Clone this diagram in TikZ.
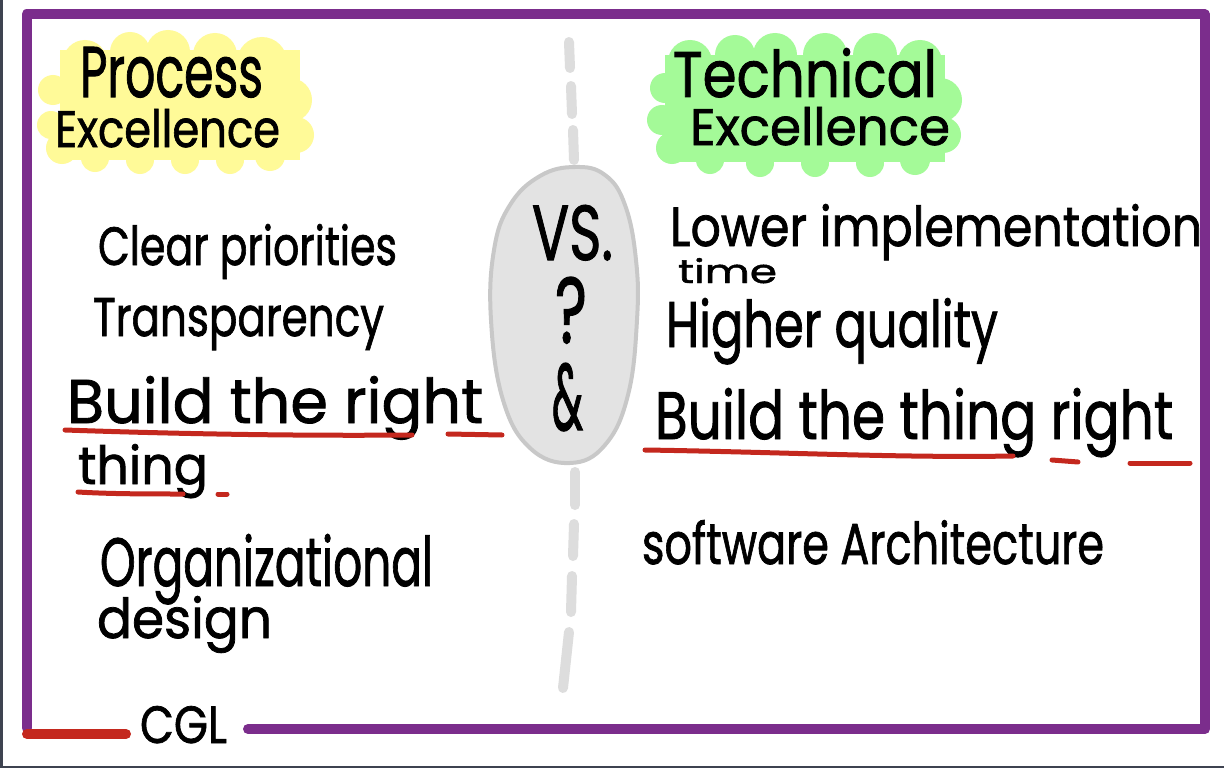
\documentclass[tikz,border=0pt]{standalone}
\usepackage{fontspec}
\usepackage{graphicx}
\setmainfont{Poppins}[FakeBold=1.4,AutoFakeBold=1.4]
\newfontfamily\handfont{Poppins}[FakeBold=1.4]
\definecolor{framepurple}{RGB}{123,45,140}
\definecolor{markred}{RGB}{196,40,30}
\definecolor{hiyellow}{RGB}{255,250,152}
\definecolor{higreen}{RGB}{164,250,152}
\definecolor{ovalfill}{RGB}{227,227,227}
\definecolor{ovaledge}{RGB}{200,200,200}
\definecolor{dashgray}{RGB}{221,221,221}
\definecolor{edgegray}{RGB}{62,67,80}
% text squeezed into a given width and height (in px units)
\newcommand{\handtext}[3]{\resizebox{#1pt}{#2pt}{\handfont #3}}
\tikzset{
  word/.style={inner sep=0pt, outer sep=0pt, anchor=base west, text=black},
  underline/.style={draw=markred, line width=5pt, line cap=round},
  dashpiece/.style={draw=dashgray, line width=10pt, line cap=round},
}
\begin{document}
\begin{tikzpicture}[x=1pt,y=-1pt]
\useasboundingbox (0,0) rectangle (1224,768);
\fill[white] (0,0) rectangle (1224,768);
\fill[edgegray] (0,0) rectangle (3,768);
\fill[edgegray] (0,766) rectangle (1224,768);

% highlighter clouds
\begin{scope}[fill=hiyellow]
  \fill (60,50) rectangle (300,160);
  \foreach \cx/\cy/\r in {85/62/22, 130/52/20, 168/52/22, 215/55/22, 262/62/25,
      290/100/22, 296/135/18, 270/156/15, 230/160/14, 185/160/14, 140/160/14,
      95/158/14, 62/148/16, 51/125/14, 53/90/15}
    \fill (\cx,\cy) circle (\r);
\end{scope}
\begin{scope}[fill=higreen]
  \fill (665,55) rectangle (945,162);
  \foreach \cx/\cy/\r in {690/62/22, 735/55/20, 775/55/22, 825/55/22, 875/55/22,
      920/62/22, 940/100/22, 943/135/18, 915/160/15, 870/163/14, 815/163/14,
      760/163/14, 710/160/14, 672/148/16, 662/120/15, 665/88/15}
    \fill (\cx,\cy) circle (\r);
\end{scope}

% dashed divider
\draw[dashpiece] (569,42) -- (570,68);
\draw[dashpiece] (571,86) -- (572,114);
\draw[dashpiece] (573,130) -- (574,160);
\draw[dashpiece] (575,472) -- (575,505);
\draw[dashpiece] (574,524) -- (573,556);
\draw[dashpiece] (572,576) -- (571,612);
\draw[dashpiece] (569,632) -- (563,688);

% central oval
\path[fill=ovalfill, draw=ovaledge, line width=4pt]
  plot[smooth cycle, tension=0.7] coordinates
  {(575,167) (605,175) (625,205) (636,260) (637,320) (628,395) (605,445)
   (570,463) (530,448) (503,400) (491,320) (494,250) (510,205) (540,176)};

% frame
\draw[framepurple, line width=10pt, line join=round, line cap=round]
  (248,729) -- (1205,729) -- (1205,14.5) -- (26.5,14.5) -- (26.5,728);
\draw[markred, line width=10pt, line cap=round] (27,734) -- (126,734);

% headings
\node[word] (proc) at (80,97) {\handtext{183}{50}{Process}};
\node[word] (excA) at (55,147) {\handtext{225}{38}{Excellence}};
\node[word] (tech) at (673,97) {\handtext{264}{49}{Technical}};
\node[word] (excB) at (690,145) {\handtext{260}{38}{Excellence}};

% left column
\node[word] (clear) at (98,265) {\handtext{299}{41}{Clear priorities}};
\node[word] (transp) at (93,336) {\handtext{291}{38}{Transparency}};
\node[word] (buildA) at (67,423) {\handtext{416}{47}{Build the right}};
\node[word] (thingA) at (78,484) {\handtext{130}{40}{thing}};
\node[word] (org) at (100,586) {\handtext{333}{52}{Organizational}};
\node[word] (design) at (97,638) {\handtext{175}{42}{design}};

% right column
\node[word] (lower) at (670,246) {\handtext{532}{42}{Lower implementation}};
\node[word] (time) at (678,283) {\handtext{99}{25}{time}};
\node[word] (higher) at (666,347) {\handtext{332}{49}{Higher quality}};
\node[word] (buildB) at (655,439) {\handtext{518}{51}{Build the thing right}};
\node[word] (soft) at (642,564) {\handtext{462}{44}{software Architecture}};

% oval text
\node[word] (vs) at (532,260) {\handtext{81}{55}{VS.}};
\node[word] (qm) at (555,343) {\handtext{32}{66}{?}};
\node[word] (amp) at (552,430) {\handtext{31}{67}{\&}};

% signature
\node[word] (cgl) at (140,743) {\handtext{87}{37}{CGL}};

% red underlines
\draw[underline] (65,430) .. controls (180,434) and (300,436) .. (412,435);
\draw[underline] (448,434) -- (502,435);
\draw[underline] (78,492) .. controls (110,494) and (150,494) .. (183,494);
\draw[underline] (218,494) -- (227,494);
\draw[underline] (645,450) .. controls (780,452) and (900,458) .. (1013,456);
\draw[underline] (1052,460) -- (1078,462);
\draw[underline] (1130,463) -- (1190,463);
\end{tikzpicture}
\end{document}
